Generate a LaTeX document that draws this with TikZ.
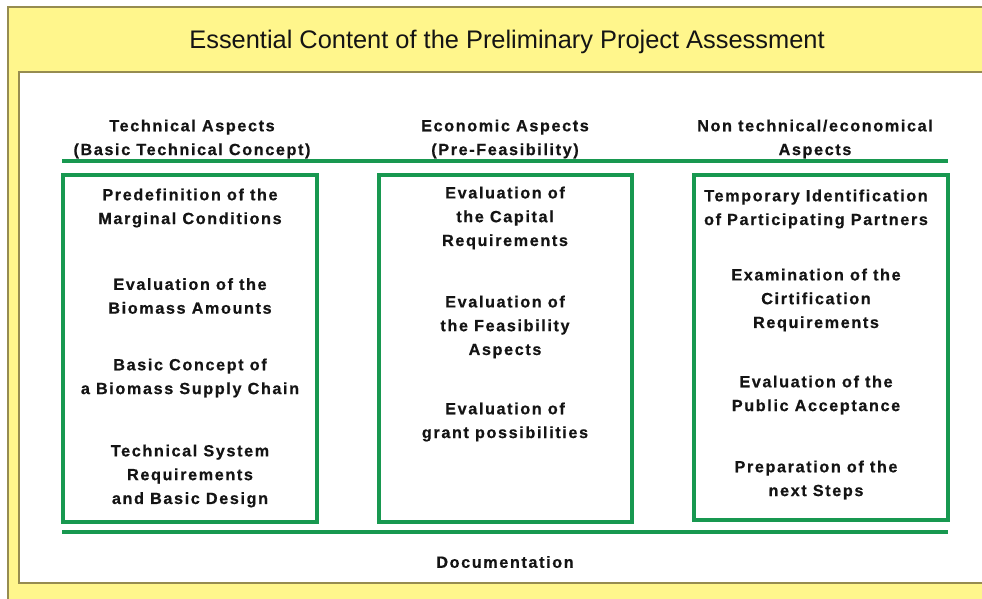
\documentclass[tikz,border=0pt]{standalone}
\usepackage{fontspec}
\setmainfont{Liberation Sans}
\newfontfamily\boldsp[LetterSpace=10,FakeBold=0.6]{Liberation Sans Bold}
\newfontfamily\titlefont{Liberation Sans}
\definecolor{pyellow}{RGB}{255,246,140}
\definecolor{pborder}{RGB}{150,140,80}
\definecolor{pgreen}{RGB}{24,152,80}
\definecolor{ptext}{RGB}{20,20,20}
\tikzset{
  lbl/.style={align=center, text=ptext, font=\boldsp\fontsize{16.2}{23.8}\selectfont, inner sep=0pt},
  gbox/.style={draw=pgreen, line width=4pt, inner sep=0pt},
  gline/.style={draw=pgreen, line width=4.5pt},
}
\begin{document}
\begin{tikzpicture}[x=1pt,y=-1pt]
\useasboundingbox (0,0) rectangle (982,599);
\fill[white] (0,0) rectangle (982,599);
\filldraw[fill=pyellow, draw=pborder, line width=1.2pt] (8,7) rectangle (990,610);
\filldraw[fill=white, draw=pborder, line width=1.2pt] (19,72) rectangle (990,583);
\node[font=\titlefont\fontsize{25.4}{30}\selectfont, text=ptext] (title) at (507,42) {Essential Content of the Preliminary Project Assessment};
% headers
\node[lbl] (h1) at (192,139) {Technical Aspects\\(Basic Technical Concept)};
\node[lbl] (h2) at (505,139) {Economic Aspects\\(Pre-Feasibility)};
\node[lbl] (h3) at (815,139) {Non technical/economical\\Aspects};
\draw[gline] (62,161) -- (948,161);
% boxes
\node[gbox, minimum width=254pt, minimum height=347pt] (b1) at (190,348.5) {};
\node[gbox, minimum width=253pt, minimum height=347pt] (b2) at (505.5,348.5) {};
\node[gbox, minimum width=254pt, minimum height=345pt] (b3) at (821,347.5) {};
\draw[gline] (62,532) -- (948,532);
% left
\node[lbl] (l1) at (190,208) {Predefinition of the\\Marginal Conditions};
\node[lbl] (l2) at (190,296) {Evaluation of the\\Biomass Amounts};
\node[lbl] (l3) at (190,378) {Basic Concept of\\a Biomass Supply Chain};
\node[lbl] (l4) at (190,476) {Technical System\\Requirements\\and Basic Design};
% middle
\node[lbl] (m1) at (505,218) {Evaluation of\\the Capital\\Requirements};
\node[lbl] (m2) at (505,327) {Evaluation of\\the Feasibility\\Aspects};
\node[lbl] (m3) at (505,422) {Evaluation of\\grant possibilities};
% right
\node[lbl] (r1) at (816,209) {Temporary Identification\\of Participating Partners};
\node[lbl] (r2) at (816,300) {Examination of the\\Cirtification\\Requirements};
\node[lbl] (r3) at (816,395) {Evaluation of the\\Public Acceptance};
\node[lbl] (r4) at (816,480) {Preparation of the\\next Steps};
\node[lbl] (doc) at (505,562) {Documentation};
\end{tikzpicture}
\end{document}
